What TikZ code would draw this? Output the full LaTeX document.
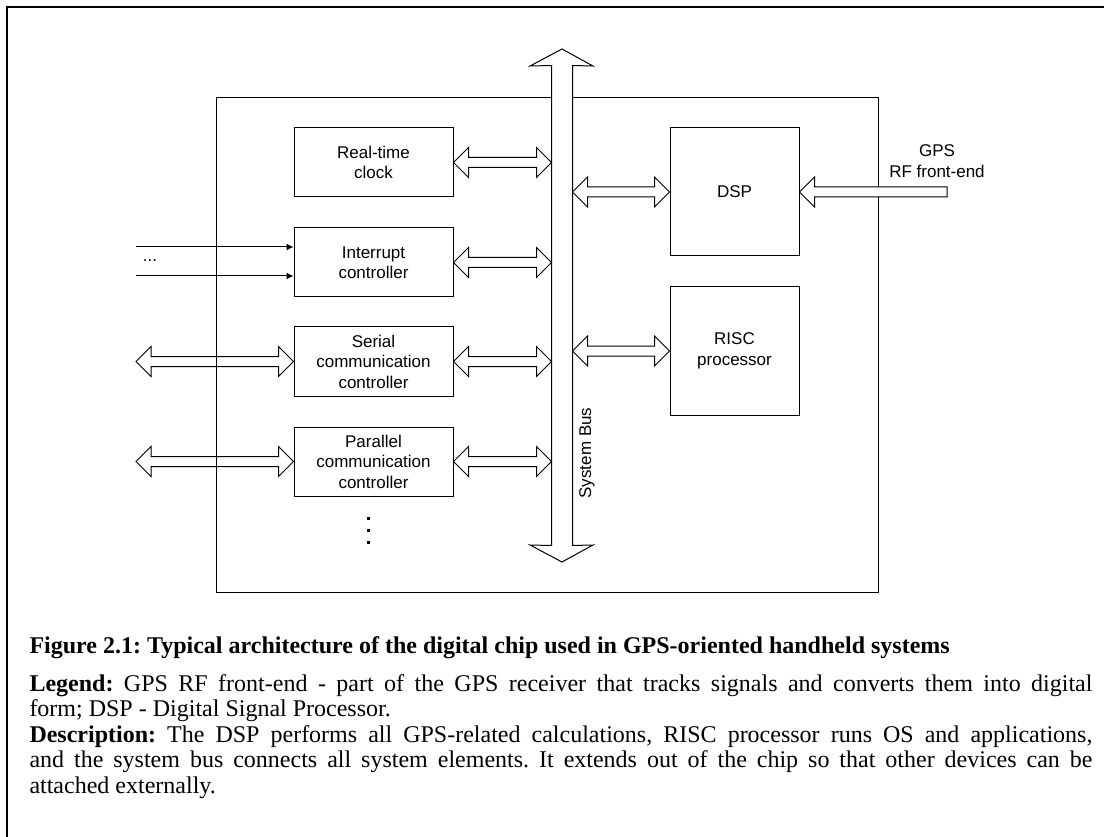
\documentclass[tikz,border=0pt]{standalone}
\usepackage{fontspec}
\setmainfont{Liberation Sans}
\newfontfamily\capfont{Liberation Serif}
\usetikzlibrary{positioning,arrows.meta,calc}
\frenchspacing

% hollow two-headed arrow between two points on one level
\newcommand\dblarrow[2]{%
  \draw[fill=white] let \p1=#1, \p2=#2 in
    (\p1) -- ++(15pt,15pt) -- ++(0,-10pt) -- (\x2-15pt,\y2+5pt) -- ++(0,10pt)
    -- (\p2) -- ++(-15pt,-15pt) -- ++(0,10pt) -- (\x1+15pt,\y1-5pt)
    -- ++(0,-10pt) -- cycle;}
% hollow one-headed arrow, tip on the left
\newcommand\inarrow[2]{%
  \draw[fill=white] let \p1=#1, \p2=#2 in
    (\p2) -- ++(15pt,15pt) -- ++(0,-10pt) -- (\x1,\y1+5pt) -- ++(0,-10pt)
    -- (\x2+15pt,\y2-5pt) -- ++(0,-10pt) -- cycle;}

\tikzset{
  block/.style={draw, minimum width=159pt, minimum height=69pt, inner sep=0pt,
    align=center, font=\fontsize{17}{20.5}\selectfont},
  cpu/.style={block, minimum width=129pt, minimum height=128pt},
  captext/.style={inner sep=0pt, font=\capfont\fontsize{24}{25.5}\selectfont}
}

\begin{document}
\begin{tikzpicture}[x=1pt, y=-1pt, line width=1pt, every node/.style={font=\fontsize{17}{20.5}\selectfont}]
  \useasboundingbox (0,0) rectangle (1104,837);
  \draw[line width=2pt] (7,837) -- (7,7) -- (1104,7);

  % blocks on the left
  \node[block] (rtc) at (373.5,162.5) {Real-time\\clock};
  \node[block, below=30pt of rtc] (irq) {Interrupt\\controller};
  \node[block, below=29pt of irq] (serial) {Serial\\communication\\controller};
  \node[block, below=30pt of serial] (parallel) {Parallel\\communication\\controller};
  \foreach \y in {518,530,542}
    \fill (367,\y-1.5) rectangle ++(3pt,-3pt);

  % processors
  \node[cpu] (dsp) at (734.5,192) {DSP};
  \node[cpu, below=30pt of dsp] (risc) {RISC\\processor};

  % outside lines
  \coordinate (edge) at (136,0);
  \coordinate (in1) at (136,247);
  \coordinate (in2) at (136,276);
  \coordinate (rf) at (947,192);
  \dblarrow{(serial.west -| edge)}{(serial.west)}
  \dblarrow{(parallel.west -| edge)}{(parallel.west)}
  \draw[-{Latex[length=7pt,width=7pt]}] (in1) -- (in1 -| irq.west);
  \draw[-{Latex[length=7pt,width=7pt]}] (in2) -- (in2 -| irq.west);
  \node (dots) at (150,261) {...};

  % chip
  \draw (216,98) rectangle (878,592);

  % system bus
  \node[minimum width=20pt, minimum height=479pt, inner sep=0pt] (bus) at (562,305.5) {};
  \draw[fill=white] (bus.south west) -- (bus.north west) -- (530,66) -- (562,49)
    -- (593,66) -- (bus.north east) -- (bus.south east) -- (593,545) -- (562,562)
    -- (530,545) -- cycle;
  \node[rotate=90] (buslabel) at (587,453) {System Bus};

  \dblarrow{(rtc.east)}{(rtc.east -| bus.west)}
  \dblarrow{(irq.east)}{(irq.east -| bus.west)}
  \dblarrow{(serial.east)}{(serial.east -| bus.west)}
  \dblarrow{(parallel.east)}{(parallel.east -| bus.west)}
  \dblarrow{(dsp.west -| bus.east)}{(dsp.west)}
  \dblarrow{(risc.west -| bus.east)}{(risc.west)}

  \inarrow{(rf)}{(dsp.east)}
  \node[align=center] (rflabel) at (937,161) {GPS\\RF front-end};

  % caption
  \node[captext, anchor=base west, font=\capfont\bfseries\fontsize{24}{25.5}\selectfont]
    (title) at (29,653) {Figure 2.1: Typical architecture of the digital chip used in GPS-oriented handheld systems};
  \node[captext, anchor=north west, text width=1063pt, align=justify,
    execute at begin node=\parindent0pt] (legend) at (29,674)
    {\textbf{Legend:} GPS RF front-end - part of the GPS receiver that tracks signals and converts them into digital\linebreak
     form; DSP - Digital Signal Processor.\par
     \textbf{Description:} The DSP performs all GPS-related calculations, RISC processor runs OS and applications,\linebreak
     and the system bus connects all system elements. It extends out of the chip so that other devices can be\linebreak
     attached externally.};
\end{tikzpicture}
\end{document}
